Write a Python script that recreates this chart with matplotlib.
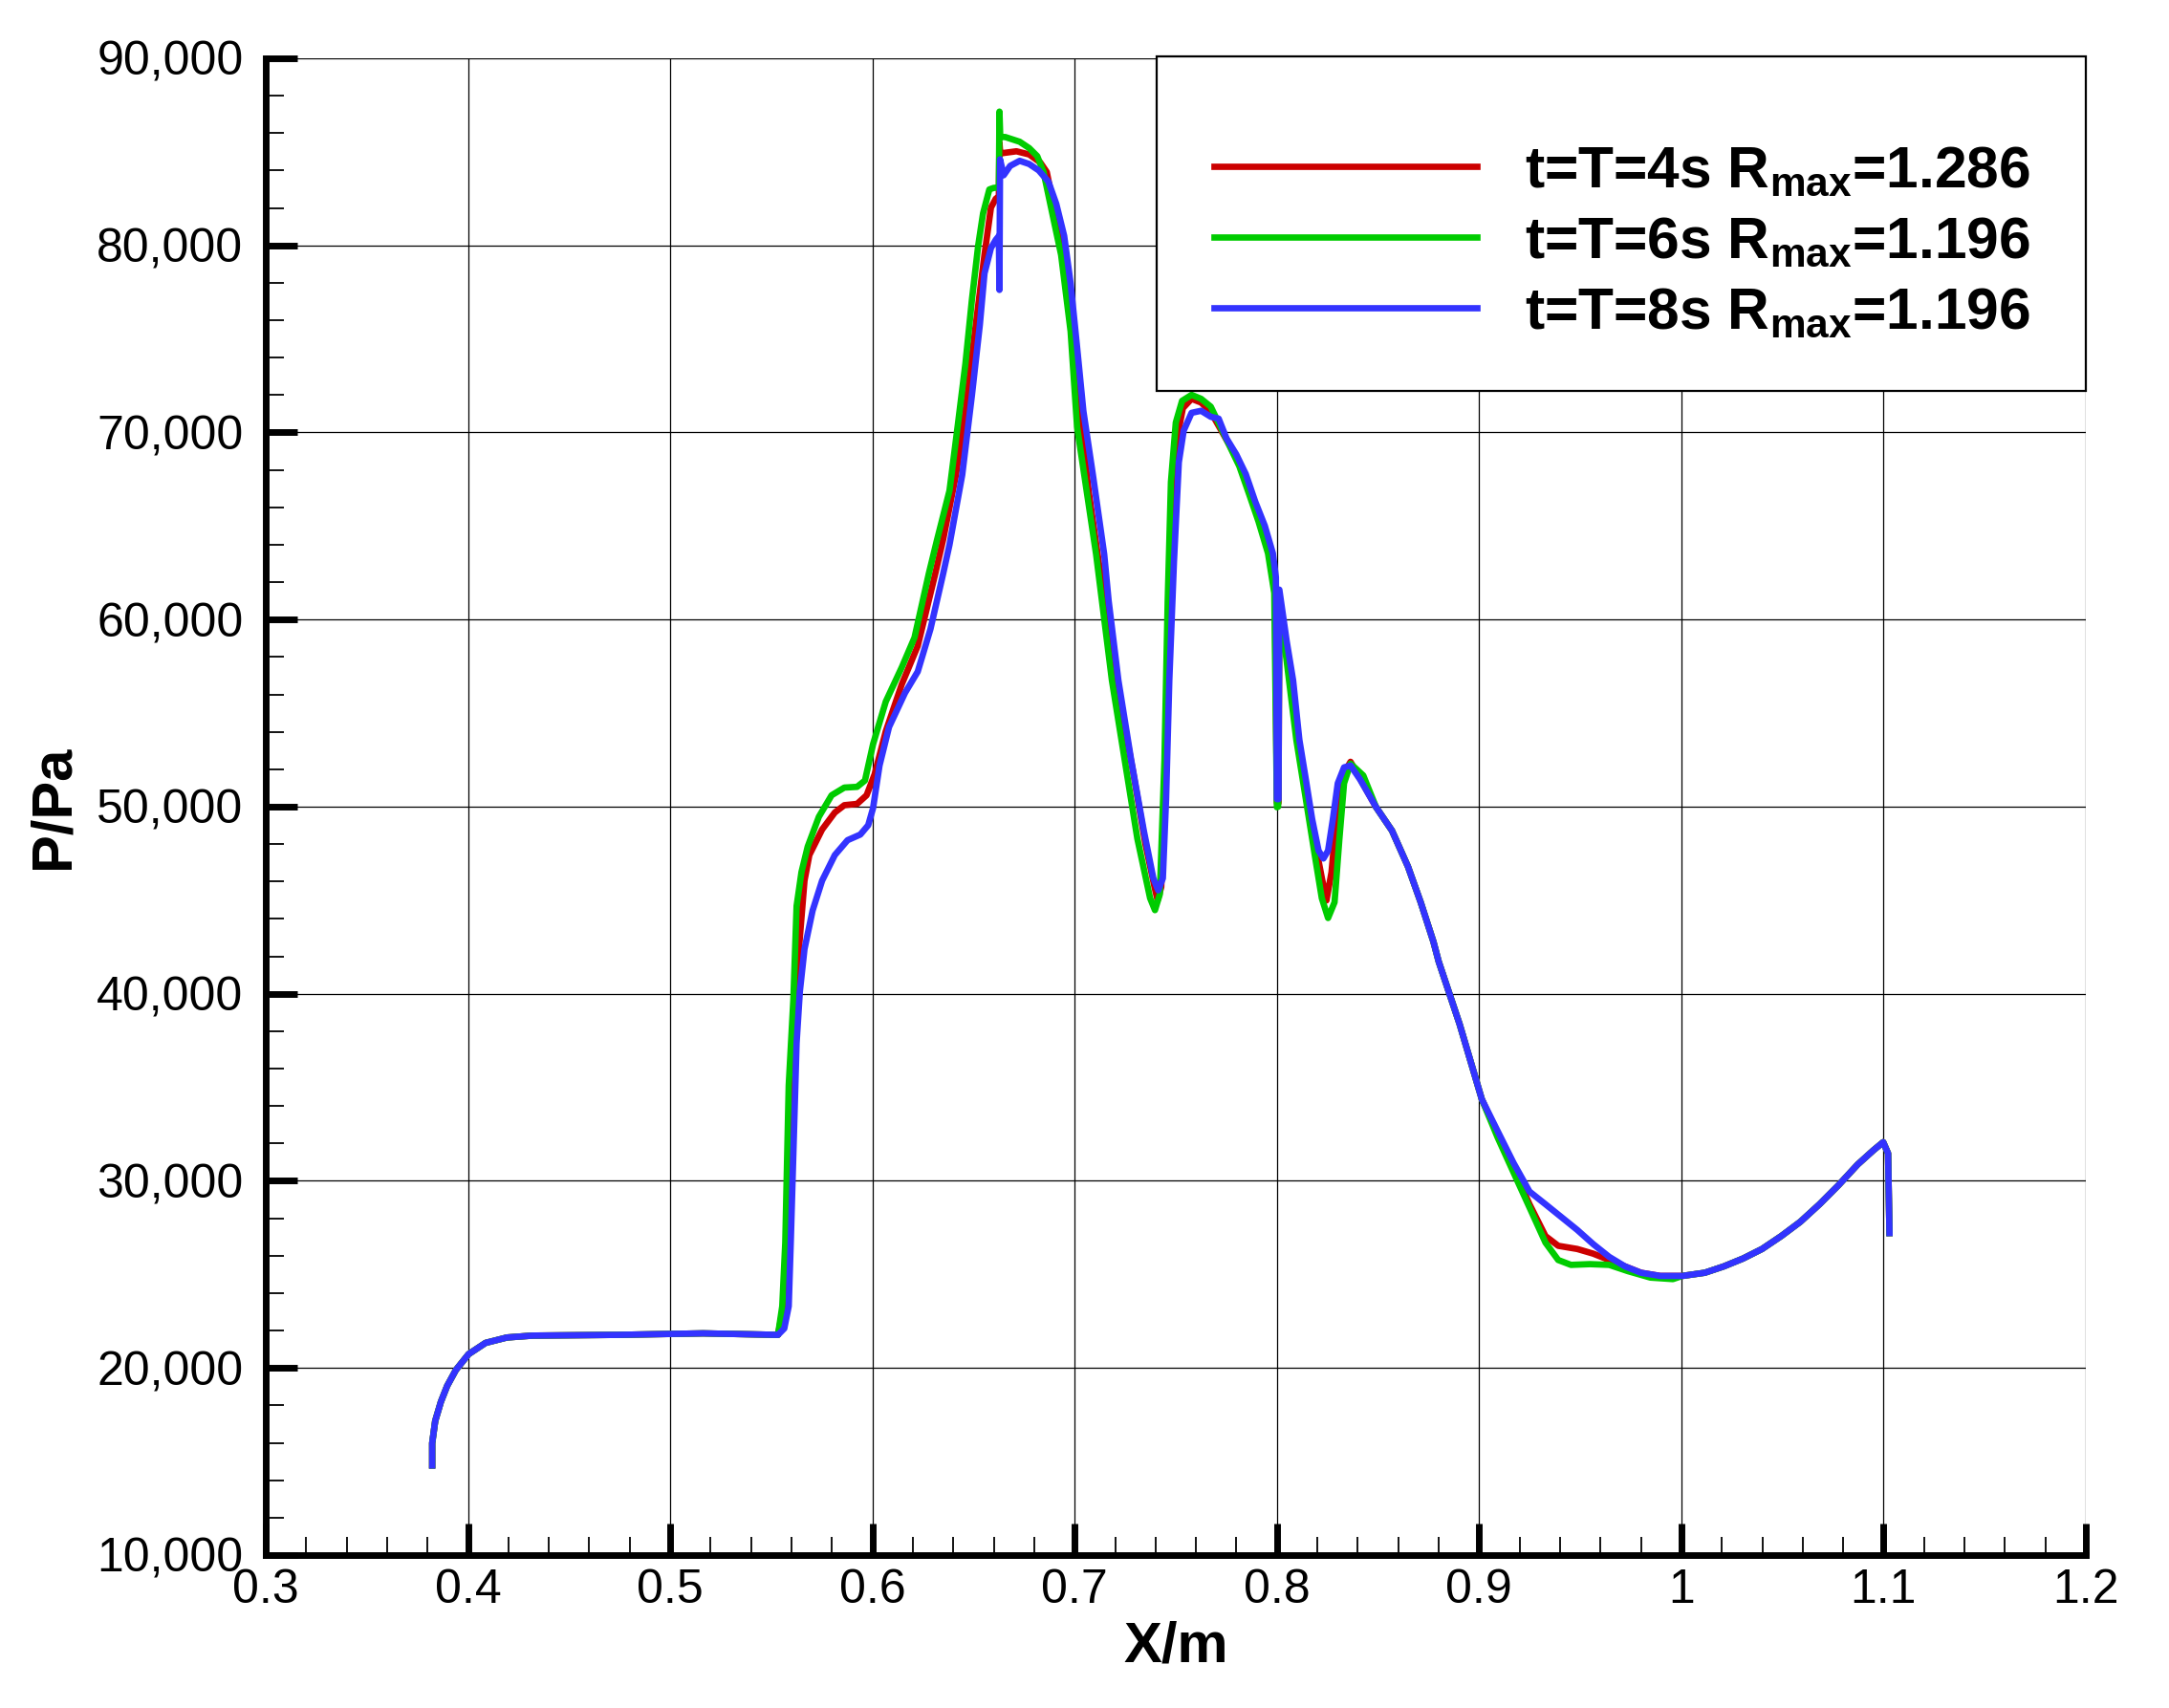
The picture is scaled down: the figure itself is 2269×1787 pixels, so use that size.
import numpy as np
import matplotlib
matplotlib.use("Agg")
import matplotlib.pyplot as plt
from matplotlib.ticker import MultipleLocator, FuncFormatter
from matplotlib.patches import Rectangle

plt.rcParams['font.family'] = ['Liberation Sans', 'DejaVu Sans']
plt.rcParams['mathtext.default'] = 'regular'

# ---------------- data ----------------
# common inlet section (all three curves coincide)
x_inlet = [0.3823, 0.3823, 0.3838, 0.3866, 0.3897, 0.3940, 0.4003, 0.4087,
           0.4193, 0.4319, 0.4741, 0.5163, 0.5533]
p_inlet = [14790, 15980, 17170, 18190, 19040, 19890, 20740, 21340,
           21630, 21730, 21770, 21850, 21770]

# common outlet section
x_outlet = [1.0005, 1.0116, 1.0210, 1.0305, 1.0399, 1.0494, 1.0588, 1.0683,
            1.0777, 1.0872, 1.0950, 1.0998, 1.1022, 1.1029]
p_outlet = [24920, 25090, 25430, 25850, 26360, 27050, 27810, 28750,
            29770, 30880, 31640, 32070, 31470, 27210]

# t = T = 4 s
x_t4 = [0.5560, 0.5575, 0.5600, 0.5620, 0.5633, 0.5664, 0.5688, 0.5751, 0.5814,
        0.5861, 0.5924, 0.5971, 0.6011, 0.6066, 0.6145, 0.6224, 0.6311, 0.6350,
        0.6413, 0.6460, 0.6507, 0.6554, 0.6586, 0.6610, 0.6625, 0.6628, 0.6632,
        0.6649, 0.6712, 0.6775, 0.6830, 0.6862, 0.6900, 0.6940, 0.6990, 0.7025,
        0.7070, 0.7120, 0.7170, 0.7220, 0.7290, 0.7350, 0.7395, 0.7410, 0.7428,
        0.7446, 0.7462, 0.7482, 0.7505, 0.7535, 0.7578, 0.7625, 0.7673, 0.7720,
        0.7767, 0.7814, 0.7862, 0.7909, 0.7956, 0.7990, 0.8000, 0.8008, 0.8012,
        0.8048, 0.8096, 0.8143, 0.8190, 0.8222, 0.8245, 0.8270, 0.8300, 0.8332,
        0.8364, 0.8411, 0.8490, 0.8569, 0.8648, 0.8711, 0.8774, 0.8800, 0.8903,
        0.9013, 0.9091, 0.9170, 0.9249, 0.9328, 0.9391, 0.9485, 0.9564, 0.9643,
        0.9721, 0.9800, 0.9895]
p_t4 = [23300, 26700, 33000, 38500, 41940, 46045, 47415, 48780, 49690,
        50080, 50150, 50610, 51740, 54030, 56540, 58590, 62470, 64300,
        67740, 71150, 75400, 79490, 82020, 82500, 82600, 85500, 84900,
        84940, 85030, 84860, 84430, 83920, 81900, 79500, 75600, 71000,
        66800, 63000, 59600, 55900, 51800, 48000, 45700, 45000, 45700,
        51000, 59000, 66000, 69600, 71300, 71800, 71600, 71100, 70200,
        69300, 68300, 66900, 65500, 63800, 61800, 50200, 50200, 61000,
        58300, 54000, 51000, 48000, 46200, 44990, 46500, 50000, 51800,
        52400, 51500, 49980, 48720, 46800, 44890, 42780, 41720, 38390,
        34370, 32500, 30700, 28750, 27050, 26530, 26360, 26110, 25770,
        25430, 25090, 24920]

# t = T = 6 s
x_t6 = [0.5554, 0.5569, 0.5586, 0.5609, 0.5625, 0.5649, 0.5680, 0.5735, 0.5798,
        0.5861, 0.5924, 0.5963, 0.6003, 0.6066, 0.6145, 0.6208, 0.6279, 0.6318,
        0.6381, 0.6421, 0.6460, 0.6492, 0.6523, 0.6547, 0.6578, 0.6599, 0.6625,
        0.6628, 0.6632, 0.6657, 0.6728, 0.6775, 0.6815, 0.6846, 0.6886, 0.6933,
        0.6980, 0.7012, 0.7059, 0.7106, 0.7184, 0.7247, 0.7310, 0.7373, 0.7397,
        0.7421, 0.7444, 0.7460, 0.7476, 0.7500, 0.7531, 0.7578, 0.7625, 0.7673,
        0.7720, 0.7767, 0.7814, 0.7862, 0.7909, 0.7956, 0.7987, 0.8000, 0.8006,
        0.8012, 0.8048, 0.8096, 0.8143, 0.8190, 0.8222, 0.8253, 0.8285, 0.8309,
        0.8332, 0.8364, 0.8427, 0.8490, 0.8569, 0.8648, 0.8711, 0.8774, 0.8800,
        0.8903, 0.9013, 0.9091, 0.9170, 0.9249, 0.9328, 0.9391, 0.9454, 0.9548,
        0.9643, 0.9737, 0.9847, 0.9958]
p_t6 = [23300, 26700, 35100, 39680, 44690, 46500, 47870, 49460, 50610,
        51020, 51060, 51400, 53340, 55620, 57450, 59040, 62470, 64200,
        66890, 70300, 73700, 77110, 80000, 81710, 82990, 83070, 83100,
        87150, 85800, 85790, 85540, 85200, 84770, 83920, 81880, 79490,
        75400, 70300, 66890, 63490, 56760, 52520, 48290, 45110, 44470,
        45320, 52520, 61000, 67350, 70530, 71690, 72010, 71800, 71380,
        70320, 69260, 68200, 66720, 65240, 63540, 61420, 49970, 50000,
        60800, 57810, 53580, 50410, 47230, 45110, 44050, 44890, 48290,
        51250, 52300, 51670, 49980, 48720, 46800, 44890, 42780, 41720,
        38390, 34370, 32330, 30450, 28580, 26700, 25770, 25510, 25550,
        25510, 25170, 24830, 24750]

# t = T = 8 s
x_t8 = [0.5564, 0.5586, 0.5596, 0.5625, 0.5641, 0.5664, 0.5704, 0.5751, 0.5814,
        0.5877, 0.5940, 0.5979, 0.6003, 0.6035, 0.6082, 0.6161, 0.6224, 0.6287,
        0.6350, 0.6381, 0.6444, 0.6492, 0.6531, 0.6554, 0.6586, 0.6610, 0.6625,
        0.6628, 0.6631, 0.6649, 0.6681, 0.6728, 0.6775, 0.6822, 0.6870, 0.6909,
        0.6948, 0.6980, 0.7012, 0.7043, 0.7090, 0.7146, 0.7168, 0.7216, 0.7279,
        0.7342, 0.7389, 0.7413, 0.7436, 0.7452, 0.7468, 0.7491, 0.7515, 0.7539,
        0.7578, 0.7625, 0.7673, 0.7712, 0.7751, 0.7799, 0.7846, 0.7893, 0.7940,
        0.7980, 0.7995, 0.8000, 0.8008, 0.8012, 0.8048, 0.8080, 0.8111, 0.8143,
        0.8174, 0.8206, 0.8230, 0.8253, 0.8277, 0.8301, 0.8332, 0.8364, 0.8411,
        0.8490, 0.8569, 0.8648, 0.8711, 0.8774, 0.8800, 0.8903, 0.9013, 0.9091,
        0.9170, 0.9249, 0.9328, 0.9406, 0.9485, 0.9564, 0.9643, 0.9721, 0.9800,
        0.9895]
p_t8 = [22110, 23300, 26700, 37380, 40115, 42390, 44445, 46045, 47415,
        48210, 48510, 49010, 49920, 52200, 54255, 56080, 57220, 59500,
        62470, 64000, 67740, 72000, 75750, 78500, 79860, 80300, 80500,
        77620, 84600, 83750, 84250, 84520, 84350, 84010, 83410, 82220,
        80510, 77960, 74550, 71150, 67740, 63490, 61000, 56760, 52520,
        48710, 46170, 45530, 46170, 50410, 56760, 63110, 68410, 70100,
        71050, 71160, 70840, 70740, 69680, 68830, 67780, 66300, 65020,
        63540, 62260, 50400, 50400, 61600, 58870, 56760, 53580, 51460,
        49350, 47650, 47230, 47650, 49350, 51250, 52100, 52200, 51460,
        49980, 48720, 46800, 44890, 42780, 41720, 38390, 34370, 32670,
        30960, 29430, 28750, 28070, 27380, 26620, 25940, 25430, 25090,
        24920]

labels = [r"t=T=4s R$_{max}$=1.286", r"t=T=6s R$_{max}$=1.196",
          r"t=T=8s R$_{max}$=1.196"]
colors = ["#cc0000", "#00cc00", "#3333ff"]

x_ticks = [0.3, 0.4, 0.5, 0.6, 0.7, 0.8, 0.9, 1.0, 1.1, 1.2]
y_ticks = [10000, 20000, 30000, 40000, 50000, 60000, 70000, 80000, 90000]

# ---------------- figure ----------------
fig = plt.figure(figsize=(22.69, 17.87), dpi=100)
ax = fig.add_axes([0.12252, 0.08954, 0.83914, 0.87633])

series = [(x_t4, p_t4), (x_t6, p_t6), (x_t8, p_t8)]
handles = []
for (xs, ps), c, lab in zip(series, colors, labels):
    xx = np.concatenate([x_inlet, xs, x_outlet])
    pp = np.concatenate([p_inlet, ps, p_outlet])
    h, = ax.plot(xx, pp, color=c, lw=4.8, label=lab, zorder=3,
                 solid_joinstyle='round')
    handles.append(h)

ax.set_xlim(0.3, 1.2)
ax.set_ylim(10000, 90000)
ax.set_xticks(x_ticks)
ax.set_yticks(y_ticks)
ax.xaxis.set_minor_locator(MultipleLocator(0.02))
ax.yaxis.set_minor_locator(MultipleLocator(2000))
ax.xaxis.set_major_formatter(FuncFormatter(lambda v, p: f"{v:g}"))
ax.yaxis.set_major_formatter(FuncFormatter(lambda v, p: f"{v:,.0f}"))

ax.grid(True, which='major', color='black', lw=0.9, zorder=1)
ax.set_axisbelow(True)

for s in ['top', 'right']:
    ax.spines[s].set_visible(False)
for s in ['left', 'bottom']:
    ax.spines[s].set_linewidth(5)
    ax.spines[s].set_zorder(5)

ax.tick_params(which='major', direction='in', length=24, width=5,
               labelsize=36, color='black')
ax.tick_params(axis='x', which='major', pad=10)
ax.tick_params(axis='y', which='major', pad=17)
ax.tick_params(which='minor', direction='in', length=13.5, width=1.3,
               color='black')

ax.set_xlabel("X/m", fontsize=43, fontweight='bold')
ax.set_ylabel("P/Pa", fontsize=43, fontweight='bold')
ax.xaxis.set_label_coords(0.5, -0.044)
ax.yaxis.set_label_coords(-0.102, 0.5)

# legend frame
ax.add_patch(Rectangle((0.4895, 0.7778), 0.5105, 0.2232,
                       transform=ax.transAxes, facecolor='white',
                       edgecolor='black', lw=1.6, zorder=6, clip_on=False))
leg = ax.legend(handles=handles, loc='center left',
                bbox_to_anchor=(0.521, 0.877), frameon=False,
                borderpad=0, borderaxespad=0, handlelength=4.54,
                handletextpad=0.83, labelspacing=0.28,
                prop={'family': ['Liberation Sans', 'DejaVu Sans'],
                      'weight': 'bold', 'size': 43.6})
leg.set_zorder(7)

fig.savefig("out.png", dpi=100, facecolor='white')
